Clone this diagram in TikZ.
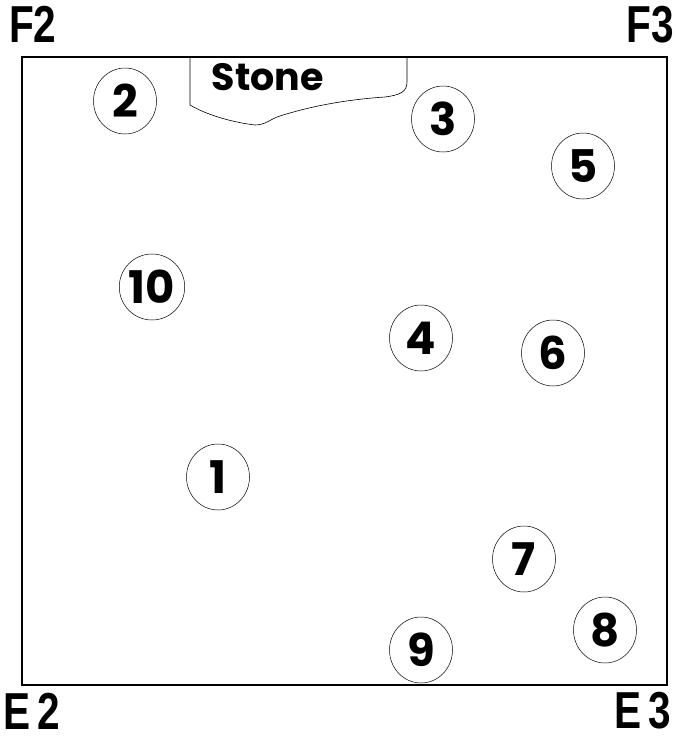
\documentclass[tikz,border=0pt]{standalone}
\usepackage{fontspec}
\usepackage{graphicx}
\usetikzlibrary{shapes.geometric}
\newfontfamily\popfont{Poppins}
\newfontfamily\labfont{Liberation Sans}
\newcommand{\narrowlab}[1]{\scalebox{0.78}[1]{#1}}
\begin{document}
\begin{tikzpicture}[x=1pt,y=-1pt,
  hole/.style={draw, line width=0.5pt, ellipse, minimum width=63pt, minimum height=66pt, inner sep=0pt, font=\popfont\fontsize{45}{45}\selectfont\bfseries},
  corner/.style={font=\labfont\fontsize{52}{52}\selectfont\bfseries, inner sep=0pt}]
\useasboundingbox (0,0) rectangle (676,740);
\draw[line width=1.8pt] (22,57) rectangle (667,685);
\coordinate (st1) at (190,57);
\coordinate (st2) at (407,57);
\draw[line width=0.6pt] (st1) -- (190,105) .. controls (205,114) and (230,122) .. (255,125)
  .. controls (266,125) and (270,119) .. (280,116) .. controls (305,108) and (340,100) .. (385,97)
  .. controls (400,95) and (407,92) .. (407,82) -- (st2);
\node[font=\popfont\fontsize{38}{38}\selectfont\bfseries, inner sep=0pt] (stone) at (268,77) {Stone};
\node[hole] (n2) at (125,101) {2};
\node[hole] (n3) at (443,119) {3};
\node[hole] (n5) at (583,166) {5};
\node[hole] (n10) at (152,287) {10};
\node[hole] (n4) at (421,338) {4};
\node[hole] (n6) at (553,353) {6};
\node[hole] (n1) at (218,477) {1};
\node[hole] (n7) at (524,559) {7};
\node[hole] (n8) at (605,630) {8};
\node[hole] (n9) at (421,650) {9};
\node[corner, anchor=west] (f2) at (9,24) {\narrowlab{F2}};
\node[corner, anchor=east] (f3) at (674,25) {\narrowlab{F3}};
\node[corner, anchor=west] (e2) at (3,711) {\narrowlab{E\hspace{9pt}2}};
\node[corner, anchor=east] (e3) at (671,711) {\narrowlab{E\hspace{9pt}3}};
\end{tikzpicture}
\end{document}
